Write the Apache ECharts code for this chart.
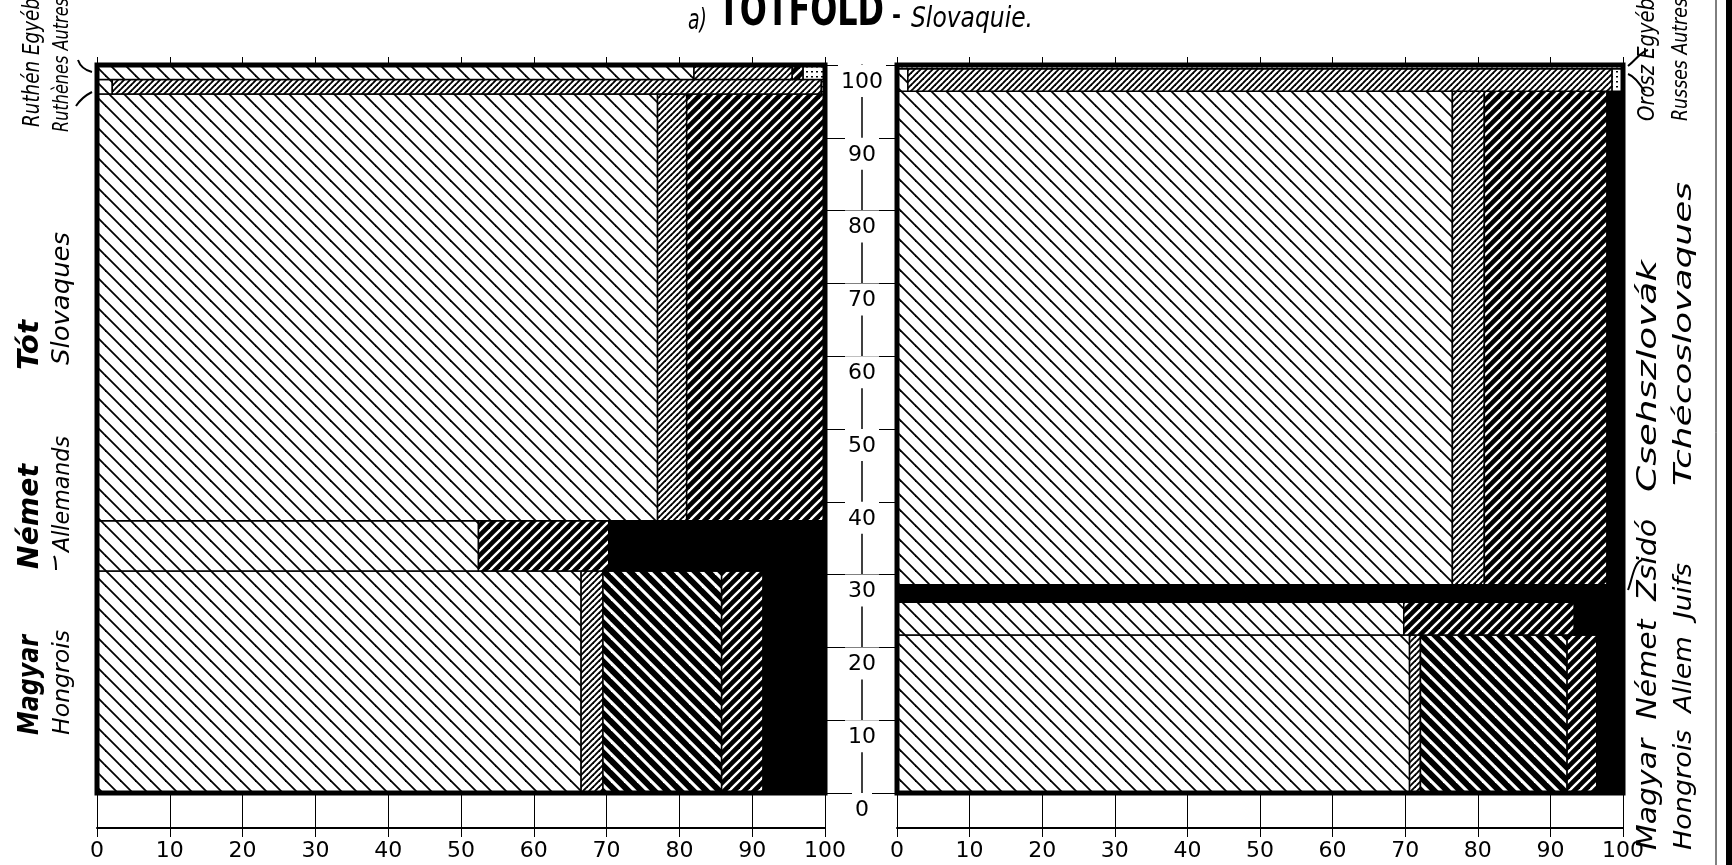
<!DOCTYPE html>
<html><head><meta charset="utf-8">
<script src="https://cdn.jsdelivr.net/npm/echarts@6/dist/echarts.min.js"></script>
<style>html,body{margin:0;padding:0;background:#fff}#c{width:1732px;height:865px}</style>
</head><body><div id="c"></div>
<script>
// ---------------- DATA ----------------
// column order inside every row (hatch pattern index)
const religions = ['Római kath.', 'Görög kath.', 'Református', 'Evangélikus', 'Izraelita', 'Egyéb'];
const axisTicks = [0, 10, 20, 30, 40, 50, 60, 70, 80, 90, 100];

// left chart (1910) – row heights (% of population), bottom to top
const leftGroups = ['Magyar', 'Német', 'Tót', 'Ruthén', 'Egyéb'];
const leftShares = [30.5, 6.9, 58.6, 2.0, 2.0];
const leftMagyar = [66.5, 3.0, 16.3, 5.7, 8.5, 0];
const leftNemet  = [52.4, 0, 0, 17.9, 29.7, 0];
const leftTot    = [77.0, 4.0, 0, 19.0, 0, 0];
const leftRuthen = [2.1, 97.4, 0, 0, 0, 0.5];
const leftEgyeb  = [82.0, 13.5, 0, 1.5, 0, 3.0];

// right chart (1921)
const rightGroups = ['Magyar', 'Német', 'Zsidó', 'Csehszlovák', 'Orosz', 'Egyéb'];
const rightShares = [21.7, 4.5, 2.4, 67.8, 3.1, 0.5];
const rightMagyar = [70.6, 1.5, 20.2, 4.1, 3.6, 0];
const rightNemet  = [69.8, 0, 0, 23.5, 6.7, 0];
const rightZsido  = [0, 0, 0, 0, 100, 0];
const rightCseh   = [76.5, 4.4, 0, 16.9, 2.2, 0];
const rightOrosz  = [1.5, 97.0, 0, 0, 0, 1.5];
const rightEgyeb  = [0, 0, 0, 0, 0, 100];

// ---------------- BUILD ----------------
function buildCells(shares, rows) {
  const out = []; let y = 0;
  shares.forEach((h, i) => {
    let x = 0;
    rows[i].forEach((w, k) => { if (w > 0) { out.push([x, x + w, y, y + h, k]); x += w; } });
    y += h;
  });
  return out;
}
const leftCells = buildCells(leftShares, [leftMagyar, leftNemet, leftTot, leftRuthen, leftEgyeb]);
const rightCells = buildCells(rightShares, [rightMagyar, rightNemet, rightZsido, rightCseh, rightOrosz, rightEgyeb]);

function hatch(s, bg, fg, lw, dir) {
  const c = document.createElement('canvas'); c.width = s; c.height = s;
  const g = c.getContext('2d');
  g.fillStyle = bg; g.fillRect(0, 0, s, s);
  g.strokeStyle = fg; g.lineWidth = lw; g.lineCap = 'square';
  for (let k = -2; k <= 3; k++) {
    g.beginPath();
    if (dir === 'back') { g.moveTo(k * s - s, -s); g.lineTo(k * s + 2 * s, 2 * s); }
    else { g.moveTo(k * s + s, -s); g.lineTo(k * s - 2 * s, 2 * s); }
    g.stroke();
  }
  return { image: c, repeat: 'repeat' };
}
function dots() {
  const c = document.createElement('canvas'); c.width = 5; c.height = 5;
  const g = c.getContext('2d'); g.fillStyle = '#fff'; g.fillRect(0, 0, 5, 5);
  g.fillStyle = '#000'; g.fillRect(1, 1, 2, 1.5);
  return { image: c, repeat: 'repeat' };
}
const fills = [
  hatch(15, '#fff', '#000', 1.8, 'back'),   // Római kath.
  hatch(6, '#fff', '#000', 1.9, 'fwd'),     // Görög kath.
  hatch(13, '#000', '#fff', 3.2, 'back'),   // Református
  hatch(10, '#000', '#fff', 2.4, 'fwd'),    // Evangélikus
  '#000',                                   // Izraelita
  dots()                                    // Egyéb
];

function renderCell(params, api) {
  const p0 = api.coord([api.value(0), api.value(3)]);
  const p1 = api.coord([api.value(1), api.value(2)]);
  return { type: 'rect', shape: { x: p0[0], y: p0[1], width: p1[0] - p0[0], height: p1[1] - p0[1] },
    style: { fill: fills[api.value(4)], stroke: '#000', lineWidth: 1.5 } };
}
function renderFrame(params, api) {
  const p0 = api.coord([api.value(0), api.value(3)]);
  const p1 = api.coord([api.value(1), api.value(2)]);
  return { type: 'rect', shape: { x: p0[0], y: p0[1], width: p1[0] - p0[0], height: p1[1] - p0[1] },
    style: { fill: 'none', stroke: '#000', lineWidth: 5 } };
}

const numFont = 'DejaVu Sans';
function xAxes(gi) {
  return [
    { gridIndex: gi, type: 'value', min: 0, max: 100, interval: 10, position: 'bottom', offset: 35,
      axisLine: { show: true, onZero: false, lineStyle: { color: '#000', width: 2 } },
      axisTick: { show: true, inside: true, length: 35, lineStyle: { color: '#000', width: 1 } },
      axisLabel: { show: true, margin: 12, color: '#000', fontSize: 22, fontFamily: numFont },
      splitLine: { show: false } },
    { gridIndex: gi, type: 'value', min: 0, max: 100, interval: 10, position: 'top',
      axisLine: { show: false, onZero: false },
      axisTick: { show: true, inside: false, length: 8, lineStyle: { color: '#000', width: 1 } },
      axisLabel: { show: false }, splitLine: { show: false } },
    { gridIndex: gi, type: 'value', min: 0, max: 100, interval: 10, position: 'bottom', offset: 35,
      axisLine: { show: false, onZero: false },
      axisTick: { show: true, inside: false, length: 9, lineStyle: { color: '#000', width: 1 } },
      axisLabel: { show: false }, splitLine: { show: false } }
  ];
}

// text helper: fit a text to a target length
const meas = document.createElement('canvas').getContext('2d');
function fitText(text, font, len) { meas.font = font; return len / meas.measureText(text).width; }
const labFont = '"Liberation Sans Narrow", "DejaVu Sans Condensed", sans-serif';
function vText(text, cx, yBottom, yTop, size, weight) {
  const font = 'italic ' + (weight || 'normal') + ' ' + size + 'px ' + labFont;
  return { type: 'text', x: cx, y: (yBottom + yTop) / 2, rotation: Math.PI / 2,
    scaleX: fitText(text, font, yBottom - yTop),
    style: { text: text, font: font, fill: '#000', align: 'center', verticalAlign: 'middle' } };
}
function hText(text, xLeft, xRight, yBase, size, weight, italic) {
  const font = (italic ? 'italic ' : '') + (weight || 'normal') + ' ' + size + 'px ' + labFont;
  return { type: 'text', x: (xLeft + xRight) / 2, y: yBase,
    scaleX: fitText(text, font, xRight - xLeft),
    style: { text: text, font: font, fill: '#000', align: 'center', verticalAlign: 'bottom' } };
}
function curve(x1, y1, cx1, cy1, cx2, cy2, x2, y2) {
  return { type: 'bezierCurve', shape: { x1: x1, y1: y1, cpx1: cx1, cpy1: cy1, cpx2: cx2, cpy2: cy2, x2: x2, y2: y2 },
    style: { stroke: '#000', lineWidth: 2, fill: 'none' }, z: 10 };
}

const chart = echarts.init(document.getElementById('c'), null, { renderer: 'canvas' });
chart.setOption({
  backgroundColor: '#fff',
  animation: false,
  grid: [
    { left: 97, top: 65, width: 728, height: 728 },
    { left: 897, top: 65, width: 726, height: 728 }
  ],
  xAxis: [...xAxes(0), ...xAxes(1)],
  yAxis: [
    { gridIndex: 0, type: 'value', min: 0, max: 100, interval: 10, position: 'right', offset: 37,
      axisLine: { show: false, onZero: false },
      axisTick: { show: true, inside: true, length: 37, lineStyle: { color: '#000', width: 1.2 } },
      axisLabel: { show: false }, splitLine: { show: false } },
    { gridIndex: 1, type: 'value', min: 0, max: 100, interval: 10, position: 'left', offset: 35,
      axisLine: { show: true, onZero: false, lineStyle: { color: '#000', width: 1.5 } },
      axisTick: { show: true, inside: true, length: 35, lineStyle: { color: '#000', width: 1.2 } },
      axisLabel: { show: true, margin: 0, align: 'center', verticalAlign: 'top', padding: [6, 3, 4, 3],
        backgroundColor: '#fff', color: '#000', fontSize: 22, fontFamily: numFont },
      splitLine: { show: false } }
  ],
  series: [
    { type: 'custom', xAxisIndex: 0, yAxisIndex: 0, renderItem: renderCell, data: leftCells, encode: { x: [0, 1], y: [2, 3] }, silent: true },
    { type: 'custom', xAxisIndex: 3, yAxisIndex: 1, renderItem: renderCell, data: rightCells, encode: { x: [0, 1], y: [2, 3] }, silent: true },
    { type: 'custom', xAxisIndex: 0, yAxisIndex: 0, renderItem: renderFrame, data: [[0, 100, 0, 100]], encode: { x: [0, 1], y: [2, 3] }, silent: true, z: 5 },
    { type: 'custom', xAxisIndex: 3, yAxisIndex: 1, renderItem: renderFrame, data: [[0, 100, 0, 100]], encode: { x: [0, 1], y: [2, 3] }, silent: true, z: 5 }
  ],
  graphic: [
    hText('a)', 688, 707, 36, 28, 'normal', true),
    hText('TÓTFÖLD', 718, 884, 36, 46, 'bold', false),
    hText('-', 892, 901, 30, 26, 'bold', false),
    hText('Slovaquie.', 911, 1033, 34, 28, 'normal', true),
    vText('Magyar', 31, 735, 635, 28, 'bold'),
    vText('Hongrois', 63, 735, 630, 23),
    vText('Német', 31, 569, 464, 28, 'bold'),
    vText('Allemands', 63, 552, 436, 23),
    vText('Tót', 31, 370, 320, 28, 'bold'),
    vText('Slovaques', 63, 365, 232, 24),
    vText('Ruthén Egyéb', 33, 127, -2, 23),
    vText('Ruthènes Autres', 63, 132, -2, 21),
    vText('Orosz Egyéb', 1648, 121, -2, 23),
    vText('Russes Autres', 1682, 121, -2, 21),
    vText('Csehszlovák', 1649, 492, 260, 26),
    vText('Tchécoslovaques', 1685, 486, 182, 24),
    vText('Magyar  Német  Zsidó', 1649, 850, 519, 26),
    vText('Hongrois  Allem  Juifs', 1685, 850, 563, 24),
    curve(78, 60, 80, 66, 84, 70, 92, 72),
    curve(76, 106, 80, 100, 84, 96, 92, 92),
    curve(54, 556, 56, 560, 56, 564, 56, 570),
    curve(1648, 50, 1640, 52, 1636, 60, 1628, 66),
    curve(1645, 92, 1640, 84, 1634, 76, 1628, 74),
    curve(1642, 560, 1634, 562, 1632, 580, 1628, 590),
    { type: 'rect', shape: { x: 1726, y: 0, width: 6, height: 865 }, style: { fill: '#000' } },
    { type: 'line', shape: { x1: 1716, y1: 0, x2: 1716, y2: 865 }, style: { stroke: '#000', lineWidth: 1 } }
  ]
});
</script></body></html>
